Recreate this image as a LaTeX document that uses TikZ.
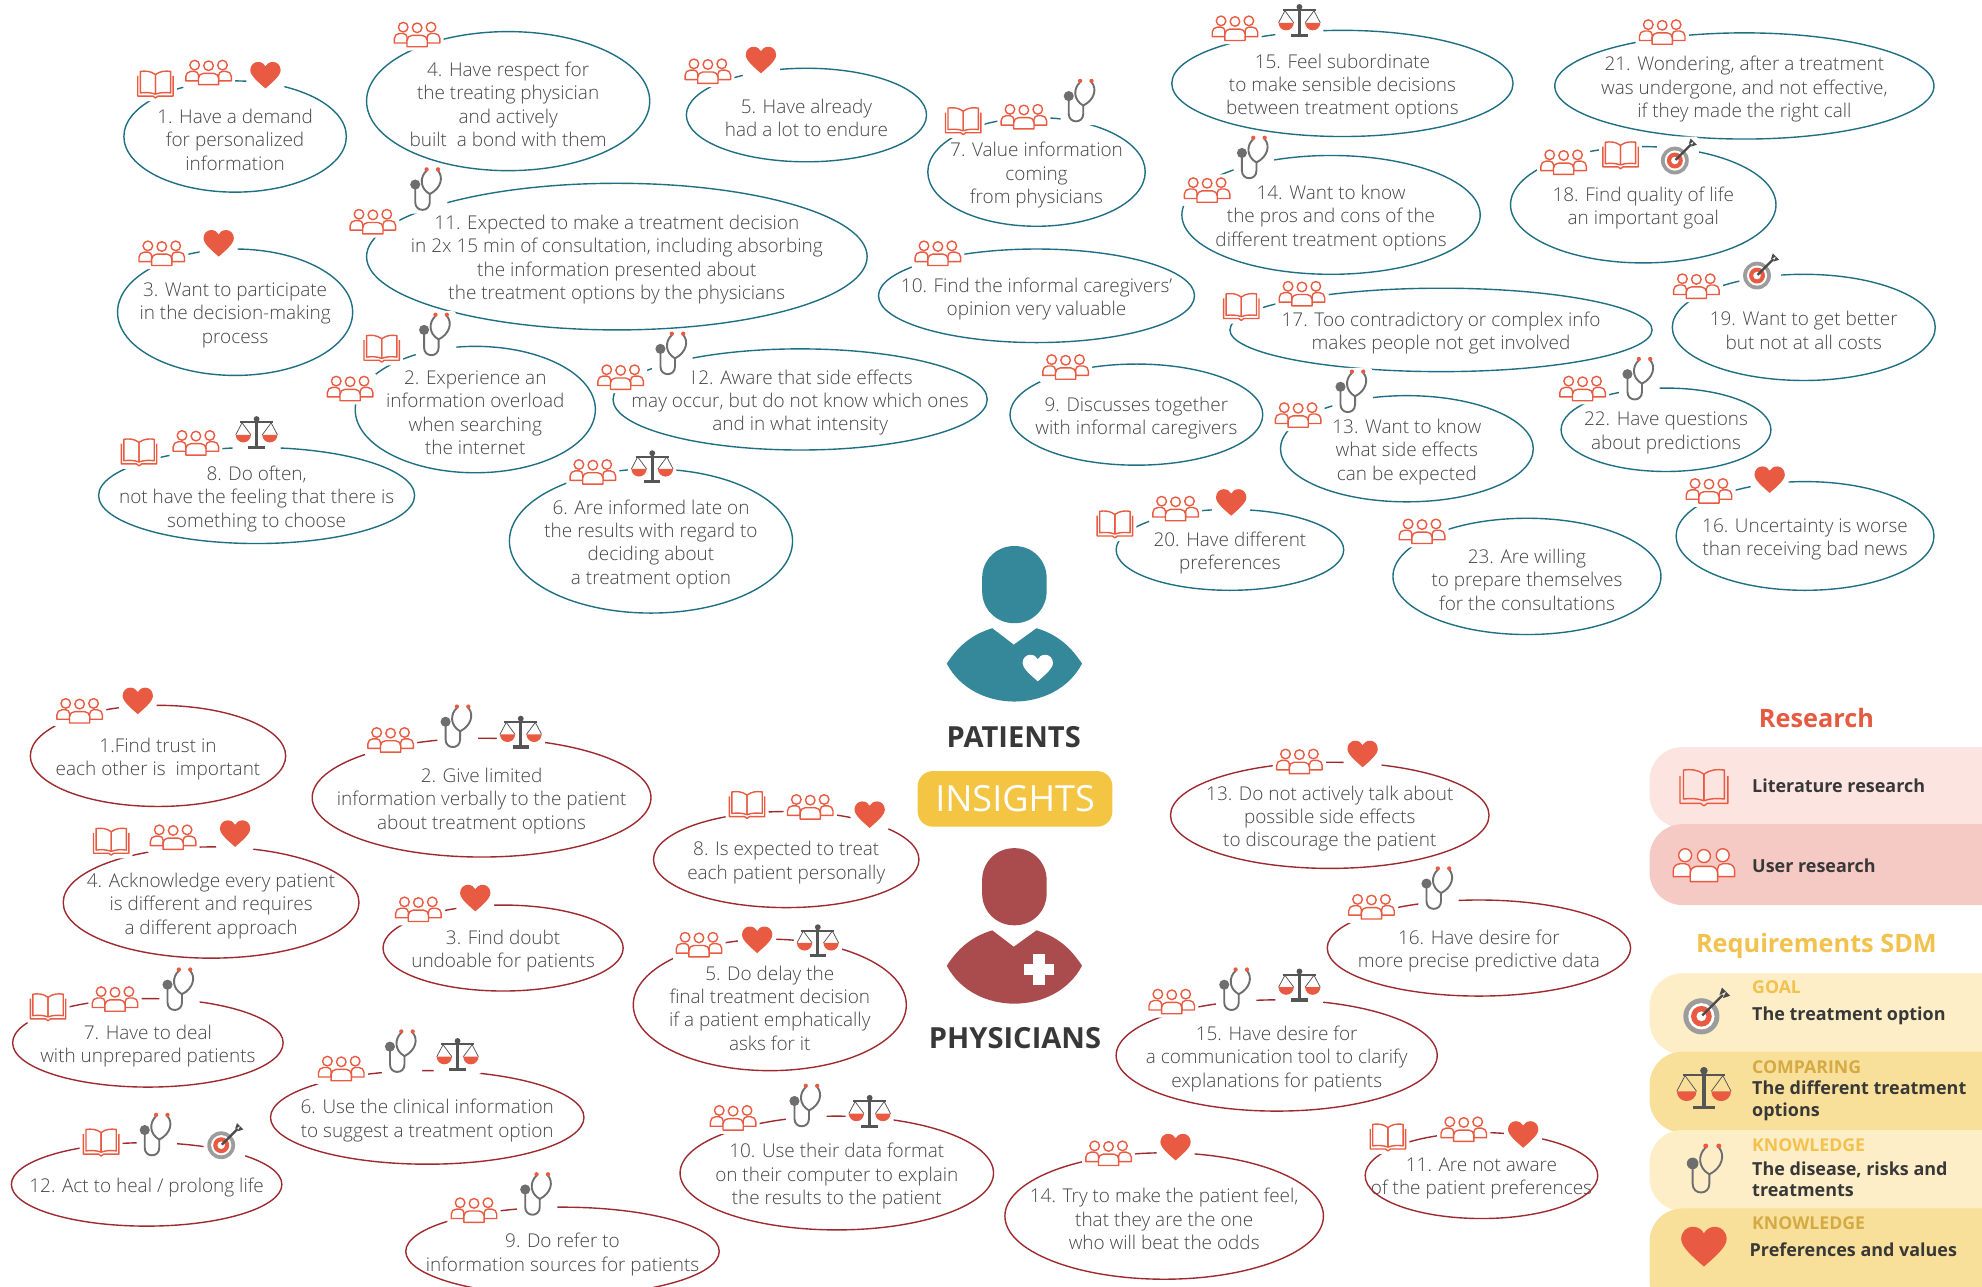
\documentclass[tikz,border=0pt]{standalone}
\usepackage{fontspec}
\setmainfont{Open Sans}
\IfFontExistsTF{Open Sans Light}{\newfontfamily\lightfont{Open Sans Light}}{\newfontfamily\lightfont{Open Sans}}
\usetikzlibrary{calc}

\definecolor{iconred}{HTML}{E85A41}
\definecolor{icongray}{HTML}{6E6E6E}
\definecolor{scalegray}{HTML}{555555}
\definecolor{targetgray}{HTML}{9C9C9C}
\definecolor{arrowgray}{HTML}{4A4A4A}
\definecolor{pteal}{HTML}{1E6F82}
\definecolor{dred}{HTML}{9E2A2F}
\definecolor{pfig}{HTML}{35879A}
\definecolor{dfig}{HTML}{AA4B4E}
\definecolor{txtgray}{HTML}{454545}
\definecolor{insight}{HTML}{F4C542}
\definecolor{resred}{HTML}{E45B42}
\definecolor{reqyel}{HTML}{F2C14E}
\definecolor{darklabel}{HTML}{D4AA45}
\definecolor{litbox}{HTML}{FCE5E1}
\definecolor{userbox}{HTML}{F6CAC4}
\definecolor{lightbox}{HTML}{FDEEC7}
\definecolor{darkbox}{HTML}{F9E09A}
\definecolor{legtext}{HTML}{383838}

\tikzstyle{bubbletext}=[font=\lightfont\fontsize{15}{18.5}\selectfont, text=txtgray, align=center, inner sep=0pt]
\tikzstyle{pline}=[draw=pteal, line width=1.1pt]
\tikzstyle{dline}=[draw=dred, line width=1.1pt]
\tikzstyle{iconback}=[fill=white, rounded corners=3]
\tikzstyle{nobg}=[iconback/.style={fill=none}]
\tikzstyle{rolelabel}=[font=\bfseries\fontsize{23}{23}\selectfont, text=legtext, inner sep=0pt]
\tikzstyle{legtitle}=[font=\bfseries\fontsize{20}{20}\selectfont, inner sep=0pt]
\tikzstyle{leglabel}=[font=\bfseries\fontsize{14}{14}\selectfont, anchor=west, inner sep=0pt]
\tikzstyle{legentry}=[font=\bfseries\fontsize{14.2}{17}\selectfont, text=legtext, anchor=west, align=left, inner sep=0pt]

\tikzset{
  pics/book/.style={code={
    \path[iconback] (-17,-12) rectangle (17,14);
    \draw[iconred, line width=1.1pt, line join=round] (-14,-6) -- (-14,10) -- (-2,10) -- (0,11.5) -- (2,10) -- (14,10) -- (14,-6);
    \draw[iconred, line width=1.1pt, line join=round] (0,8.5) -- (0,-7) .. controls (-4,-10) and (-8,-10) .. (-12,-9.5) -- (-12,7.5) .. controls (-8,7) and (-4,7) .. (0,8.5);
    \draw[iconred, line width=1.1pt, line join=round] (0,8.5) -- (0,-7) .. controls (4,-10) and (8,-10) .. (12,-9.5) -- (12,7.5) .. controls (8,7) and (4,7) .. (0,8.5);
  }},
  pics/people/.style={code={
    \path[iconback] (-21,-12) rectangle (21,13);
    \begin{scope}[iconred, line width=1.1pt, line join=round]
    \draw[fill=white] (-11,-5.5) circle (3.8);
    \draw[fill=white] (11,-5.5) circle (3.8);
    \draw[fill=white] (-18,7) -- (-18,3.5) arc[start angle=180, end angle=270, radius=4] -- (-11,-0.5) arc[start angle=270, end angle=360, radius=3] -- (-8,7) -- cycle;
    \draw[fill=white] (18,7) -- (18,3.5) arc[start angle=0, end angle=-90, radius=4] -- (11,-0.5) arc[start angle=-90, end angle=-180, radius=3] -- (8,7) -- cycle;
    \draw[fill=white] (-8,10) -- (-8,5) arc[start angle=180, end angle=270, radius=4] -- (4,1) arc[start angle=270, end angle=360, radius=4] -- (8,10) -- cycle;
    \draw[fill=white] (0,-5) circle (3.8);
    \end{scope}
  }},
  pics/heart/.style={code={
    \path[iconback] (-15,-14) rectangle (15,13);
    \fill[#1] (0,10) .. controls (-5,5.5) and (-12,0) .. (-12,-4.5) .. controls (-12,-8.5) and (-9,-11) .. (-6,-11) .. controls (-3,-11) and (-1,-9.5) .. (0,-7.5) .. controls (1,-9.5) and (3,-11) .. (6,-11) .. controls (9,-11) and (12,-8.5) .. (12,-4.5) .. controls (12,0) and (5,5.5) .. (0,10) -- cycle;
  }},
  pics/stetho/.style={code={
    \path[iconback] (-16,-19) rectangle (16,19);
    \begin{scope}[icongray, line width=1.5pt, line cap=round]
    \draw (-0.5,-15) .. controls (-6,-10) and (-6,-1) .. (2,3.5);
    \draw (8.5,-15) .. controls (13,-10) and (11,-1) .. (2,3.5);
    \draw (2,3.5) -- (2,10) .. controls (2,18) and (-9.5,18) .. (-9.5,10) -- (-9.5,-3);
    \fill (-9.5,-4) circle (4);
    \end{scope}
    \fill[iconred] (-0.5,-16) circle (1.7);
    \fill[iconred] (8.5,-16) circle (1.7);
  }},
  pics/scales/.style={code={
    \path[iconback] (-19,-16) rectangle (19,15);
    \begin{scope}[scalegray]
    \draw[line width=0.6pt] (-16.5,1) -- (-11.5,-8.5) -- (-4.5,1);
    \draw[line width=0.6pt] (4.5,1) -- (11.5,-8.5) -- (16.5,1);
    \draw[line width=1.6pt] (-13,-8.8) -- (13,-8.8);
    \draw[line width=2.6pt] (0,-11) -- (0,11);
    \draw[line width=2.6pt] (-6.5,11) -- (6.5,11);
    \fill (0,-11.5) circle (2.3);
    \end{scope}
    \fill[iconred] (-16.5,1) -- (-4.5,1) arc[start angle=0, end angle=180, radius=6] -- cycle;
    \fill[iconred] (4.5,1) -- (16.5,1) arc[start angle=0, end angle=180, radius=6] -- cycle;
  }},
  pics/target/.style={code={
    \path[iconback] (-14,-19) rectangle (19,14);
    \fill[targetgray] (0,0) circle (11);
    \fill[white] (0,0) circle (8);
    \fill[iconred] (0,0) circle (6.3);
    \fill[white] (0,0) circle (3);
    \draw[arrowgray, line width=1.8pt] (0.5,-0.5) -- (13,-13);
    \fill[arrowgray] (11,-13) -- (12.5,-17.5) -- (15,-15) -- cycle;
    \fill[arrowgray] (13,-11) -- (17.5,-12.5) -- (15,-15) -- cycle;
  }}
}

% bubble: name, x, y, x radius, y radius, line style, text
\newcommand{\drawbubble}[7]{
\node[bubbletext] (#1) at (#2,#3+2.5) {#7};
\draw[#6] (#2,#3) ellipse [x radius=#4, y radius=#5];
}

\begin{document}
\begin{tikzpicture}[x=1pt,y=-1pt]
\useasboundingbox (0,0) rectangle (1568,1018);
\clip (0,0) rectangle (1568,1018);
\fill[white] (0,0) rectangle (1568,1018);

%% patients
\drawbubble{p1}{186}{108}{88}{44}{pline}{1. Have a demand\\for personalized\\information}
\drawbubble{p4}{402}{80}{112}{55}{pline}{4. Have respect for\\the treating physician\\and actively\\built~ a bond with them}
\drawbubble{p5}{638}{91}{95}{37}{pline}{5. Have already\\had a lot to endure}
\drawbubble{p7}{820}{136}{86}{43}{pline}{7. Value information\\coming\\from physicians}
\drawbubble{p15}{1062}{66}{135}{42}{pline}{15. Feel subordinate\\to make sensible decisions\\between treatment options}
\drawbubble{p21}{1380}{68}{150}{42}{pline}{21. Wondering, after a treatment\\was undergone, and not effective,\\if they made the right call}
\drawbubble{p11}{488}{203}{198}{58}{pline}{11. Expected to make a treatment decision\\in 2x 15 min of consultation, including absorbing\\the information presented about\\the treatment options by the physicians}
\drawbubble{p14}{1053}{170}{118}{47}{pline}{14. Want to know\\the pros and cons of the\\different treatment options}
\drawbubble{p18}{1300}{162}{105}{46}{pline}{18. Find quality of life\\an important goal}
\drawbubble{p3}{186}{247}{93}{50}{pline}{3. Want to participate\\in the decision-making\\process}
\drawbubble{p10}{820}{234}{125}{37}{pline}{10. Find the informal caregivers’\\opinion very valuable}
\drawbubble{p17}{1140}{261}{167}{33}{pline}{17. Too contradictory or complex info\\makes people not get involved}
\drawbubble{p19}{1427}{259}{104}{42}{pline}{19. Want to get better\\but not at all costs}
\drawbubble{p2}{376}{324}{95}{50}{pline}{2. Experience an\\information overload\\when searching\\the internet}
\drawbubble{p12}{633}{316}{148}{40}{pline}{12. Aware that side effects\\may occur, but do not know which ones\\and in what intensity}
\drawbubble{p9}{899}{328}{100}{40}{pline}{9. Discusses together\\with informal caregivers}
\drawbubble{p13}{1113}{355}{100}{42}{pline}{13. Want to know\\what side effects\\can be expected}
\drawbubble{p22}{1318}{340}{83}{33}{pline}{22. Have questions\\about predictions}
\drawbubble{p8}{203}{392}{125}{38}{pline}{8. Do often,\\not have the feeling that there is\\something to choose}
\drawbubble{p6}{515}{428}{112}{57}{pline}{6. Are informed late on\\the results with regard to\\deciding about\\a treatment option}
\drawbubble{p20}{973}{435}{90}{32}{pline}{20. Have different\\preferences}
\drawbubble{p23}{1208}{456}{106}{46}{pline}{23. Are willing\\to prepare themselves\\for the consultations}
\drawbubble{p16}{1428}{424}{102}{43}{pline}{16. Uncertainty is worse\\than receiving bad news}

%% physicians
\drawbubble{d1}{125}{598}{101}{40}{dline}{1.Find trust in\\each other is~ important}
\drawbubble{d2}{381}{631}{134}{47}{dline}{2. Give limited\\information verbally to the patient\\about treatment options}
\drawbubble{d4}{167}{714}{117}{44}{dline}{4. Acknowledge every patient\\is different and requires\\a different approach}
\drawbubble{d8}{622}{680}{105}{38}{dline}{8. Is expected to treat\\each patient personally}
\drawbubble{d13}{1052}{645}{126}{42}{dline}{13. Do not actively talk about\\possible side effects\\to discourage the patient}
\drawbubble{d3}{398}{750}{95}{34}{dline}{3. Find doubt\\undoable for patients}
\drawbubble{d16}{1170}{750}{120}{38}{dline}{16. Have desire for\\more precise predictive data}
\drawbubble{d7}{117}{825}{107}{35}{dline}{7. Have to deal\\with unprepared patients}
\drawbubble{d5}{609}{795}{108}{52}{dline}{5. Do delay the\\final treatment decision\\if a patient emphatically\\asks for it}
\drawbubble{d15}{1010}{835}{127}{44}{dline}{15. Have desire for\\a communication tool to clarify\\explanations for patients}
\drawbubble{d6}{338}{884}{124}{37}{dline}{6. Use the clinical information\\to suggest a treatment option}
\drawbubble{d12}{116}{937}{107}{33}{dline}{12. Act to heal / prolong life}
\drawbubble{d10}{662}{928}{124}{45}{dline}{10. Use their data format\\on their computer to explain\\the results to the patient}
\drawbubble{d14}{921}{962}{126}{50}{dline}{14. Try to make the patient feel,\\that they are the one\\who will beat the odds}
\drawbubble{d11}{1172}{930}{92}{34}{dline}{11. Are not aware\\of the patient preferences}
\drawbubble{d9}{445}{990}{124}{35}{dline}{9. Do refer to\\information sources for patients}

%% icons on the patient bubbles
\pic at (123,66) {book}; \pic at (165,57) {people}; \pic at (210,60) {heart=iconred};
\pic at (330,27) {people};
\pic at (560,56) {people}; \pic at (602,48) {heart=iconred};
\pic at (762,95) {book}; \pic at (810,92) {people}; \pic at (855,80) {stetho};
\pic at (977,22) {people}; \pic at (1028,17) {scales};
\pic at (1315,25) {people};
\pic at (295,175) {people}; \pic at (338,150) {stetho};
\pic at (955,150) {people}; \pic at (992,125) {stetho};
\pic at (1237,128) {people}; \pic at (1282,122) {book}; \pic at (1325,127) {target};
\pic at (128,200) {people}; \pic at (173,193) {heart=iconred};
\pic at (742,200) {people};
\pic at (982,242) {book}; \pic at (1030,232) {people};
\pic at (1342,226) {people}; \pic at (1390,218) {target};
\pic at (277,307) {people}; \pic at (302,275) {book}; \pic at (345,265) {stetho};
\pic at (491,298) {people}; \pic at (532,280) {stetho};
\pic at (843,290) {people};
\pic at (1027,328) {people}; \pic at (1070,310) {stetho};
\pic at (1252,307) {people}; \pic at (1297,300) {stetho};
\pic at (110,357) {book}; \pic at (155,350) {people}; \pic at (203,343) {scales};
\pic at (469,373) {people}; \pic at (516,370) {scales};
\pic at (882,414) {book}; \pic at (930,402) {people}; \pic at (974,398) {heart=iconred};
\pic at (1125,420) {people};
\pic at (1352,388) {people}; \pic at (1400,380) {heart=iconred};

%% icons on the physician bubbles
\pic at (63,562) {people}; \pic at (109,555) {heart=iconred};
\pic at (309,585) {people}; \pic at (362,575) {stetho}; \pic at (412,580) {scales};
\pic at (88,665) {book}; \pic at (137,662) {people}; \pic at (186,660) {heart=iconred};
\pic at (591,636) {book}; \pic at (641,638) {people}; \pic at (688,645) {heart=iconred};
\pic at (1028,602) {people}; \pic at (1078,597) {heart=iconred};
\pic at (331,719) {people}; \pic at (376,711) {heart=iconred};
\pic at (1085,717) {people}; \pic at (1138,703) {stetho};
\pic at (38,796) {book}; \pic at (91,790) {people}; \pic at (142,783) {stetho};
\pic at (553,747) {people}; \pic at (599,744) {heart=iconred}; \pic at (647,745) {scales};
\pic at (927,792) {people}; \pic at (978,783) {stetho}; \pic at (1028,780) {scales};
\pic at (270,845) {people}; \pic at (318,832) {stetho}; \pic at (362,835) {scales};
\pic at (80,903) {book}; \pic at (124,898) {stetho}; \pic at (175,906) {target};
\pic at (580,884) {people}; \pic at (638,875) {stetho}; \pic at (688,880) {scales};
\pic at (877,912) {people}; \pic at (930,908) {heart=iconred};
\pic at (1098,899) {book}; \pic at (1158,893) {people}; \pic at (1205,898) {heart=iconred};
\pic at (375,957) {people}; \pic at (425,945) {stetho};

%% patient and physician figures
\fill[pfig, rounded corners=25] (777,432) rectangle (828,493);
\fill[pfig] (749,525) .. controls (760,508) and (772,501) .. (785,497) -- (802,510) -- (820,497) .. controls (833,501) and (845,508) .. (856,525) .. controls (835,565) and (770,565) .. (749,525) -- cycle;
\pic[nobg] at (821,529) {heart=white};
\node[rolelabel] (patients) at (802,583) {PATIENTS};

\node[fill=insight, rounded corners=12, minimum width=154, minimum height=44, inner sep=0pt, text=white, font=\fontsize{28.5}{28.5}\selectfont] (insights) at (803,632) {INSIGHTS};

\fill[dfig, rounded corners=25] (777,671) rectangle (828,732);
\fill[dfig] (749,764) .. controls (760,747) and (772,740) .. (785,736) -- (802,749) -- (820,736) .. controls (833,740) and (845,747) .. (856,764) .. controls (835,804) and (770,804) .. (749,764) -- cycle;
\fill[white] (817.5,755) rectangle (826.5,779);
\fill[white] (810,762.5) rectangle (834,771.5);
\node[rolelabel] (physicians) at (803,821) {PHYSICIANS};

%% legend
\node[legtitle, text=resred] (research) at (1437,568) {Research};
\fill[litbox, rounded corners=26] (1305,591) rectangle (1620,655);
\fill[userbox, rounded corners=26] (1305,652) rectangle (1620,716);
\pic[nobg, scale=1.35] at (1348,622) {book};
\node[legentry] (litres) at (1386,622) {Literature research};
\pic[nobg, scale=1.35] at (1348,684) {people};
\node[legentry] (userres) at (1386,685) {User research};

\node[legtitle, text=reqyel] (reqsdm) at (1437,748) {Requirements SDM};
\fill[lightbox, rounded corners=26] (1305,770) rectangle (1620,834);
\fill[darkbox, rounded corners=26] (1305,832) rectangle (1620,896);
\fill[lightbox, rounded corners=26] (1305,894) rectangle (1620,958);
\fill[darkbox, rounded corners=26] (1305,956) rectangle (1620,1040);
\pic[nobg, scale=1.3] at (1346,804) {target};
\node[leglabel, text=reqyel] (goal) at (1386,781) {GOAL};
\node[legentry] (goaltxt) at (1386,804) {The treatment option};
\pic[nobg, scale=1.3] at (1348,862) {scales};
\node[leglabel, text=darklabel] (comparing) at (1386,844) {COMPARING};
\node[legentry] (comparingtxt) at (1386,871) {The different treatment\\options};
\pic[nobg, scale=1.15] at (1350,925) {stetho};
\node[leglabel, text=reqyel] (knowledge) at (1386,906) {KNOWLEDGE};
\node[legentry] (knowledgetxt) at (1386,933) {The disease, risks and\\treatments};
\pic[nobg, scale=1.5] at (1348,987) {heart=iconred};
\node[leglabel, text=darklabel] (values) at (1386,968) {KNOWLEDGE};
\node[legentry] (valuestxt) at (1384,989) {Preferences and values};
\end{tikzpicture}
\end{document}
